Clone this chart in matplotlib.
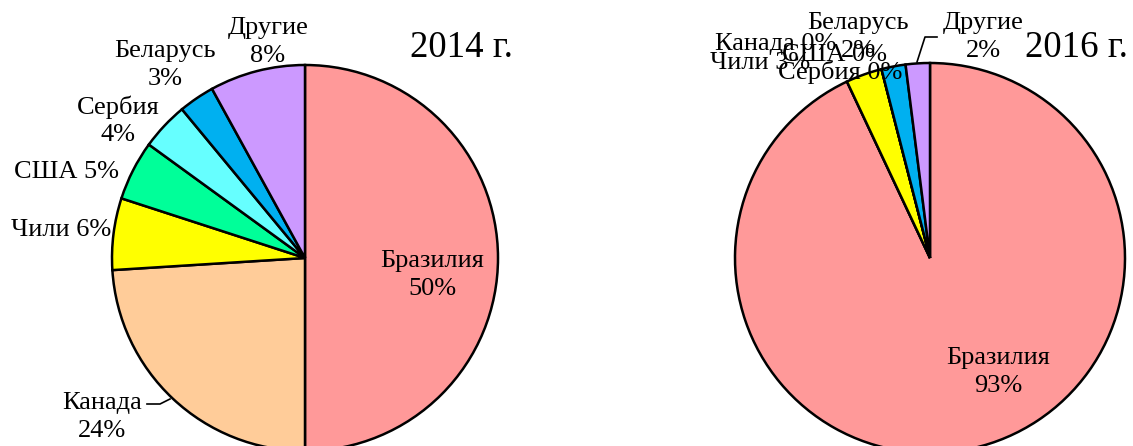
import matplotlib
matplotlib.use("Agg")
import matplotlib.pyplot as plt

countries = ["Бразилия", "Канада", "Чили", "США", "Сербия", "Беларусь", "Другие"]
shares_2014 = [50, 24, 6, 5, 4, 3, 8]
shares_2016 = [93, 0, 3, 0, 0, 2, 2]
colors = ["#FF9999", "#FFCC99", "#FFFF00", "#00FF99", "#66FFFF", "#00B0F0", "#CC99FF"]

plt.rcParams['font.family'] = ['Liberation Serif', 'DejaVu Serif']
label_size = 19
title_size = 26.5

W, H = 1133, 446
fig = plt.figure(figsize=(W / 100, H / 100), dpi=100)
ax = fig.add_axes([0, 0, 1, 1])


def draw_pie(values, cx, cy, r):
    # y axis is inverted later, so counterclock=True ends up clockwise on screen
    ax.pie(values, colors=colors, startangle=-90, counterclock=True,
           center=(cx, cy), radius=r, normalize=True,
           wedgeprops=dict(edgecolor='black', linewidth=1.8))


def label(text, x, y, **kw):
    ax.text(x, y, text, ha='center', va='center', fontsize=label_size,
            linespacing=1.3, **kw)


# 2014
draw_pie(shares_2014, 305, 258, 193)
ax.text(461, 48, "2014 г.", ha='center', va='center', fontsize=title_size)
label(f"{countries[0]}\n{shares_2014[0]}%", 432, 275)
label(f"{countries[1]}\n{shares_2014[1]}%", 102, 417)
ax.plot([147, 160, 170], [404, 404, 399], color='black', lw=1.2)
label(f"{countries[2]} {shares_2014[2]}%", 61, 230)
label(f"{countries[3]} {shares_2014[3]}%", 66, 172)
label(f"{countries[4]}\n{shares_2014[4]}%", 118, 121)
label(f"{countries[5]}\n{shares_2014[5]}%", 165, 65)
label(f"{countries[6]}\n{shares_2014[6]}%", 268, 42)

# 2016
draw_pie(shares_2016, 930, 258, 195)
ax.text(1076, 48, "2016 г.", ha='center', va='center', fontsize=title_size)
label(f"{countries[0]}\n{shares_2016[0]}%", 998, 372)
label(f"{countries[1]} {shares_2016[1]}%", 776, 44)
label(f"{countries[2]} {shares_2016[2]}%", 760, 63)
label(f"{countries[3]} {shares_2016[3]}%", 835, 55)
label(f"{countries[4]} {shares_2016[4]}%", 840, 72)
label(f"{countries[5]}\n{shares_2016[5]}%", 858, 37)
label(f"{countries[6]}\n{shares_2016[6]}%", 983, 37)
ax.plot([917, 925, 937], [62, 37, 37], color='black', lw=1.2)

ax.set_xlim(0, W)
ax.set_ylim(H, 0)
ax.set_aspect('auto')
ax.axis('off')

fig.savefig("out.png", dpi=100)
